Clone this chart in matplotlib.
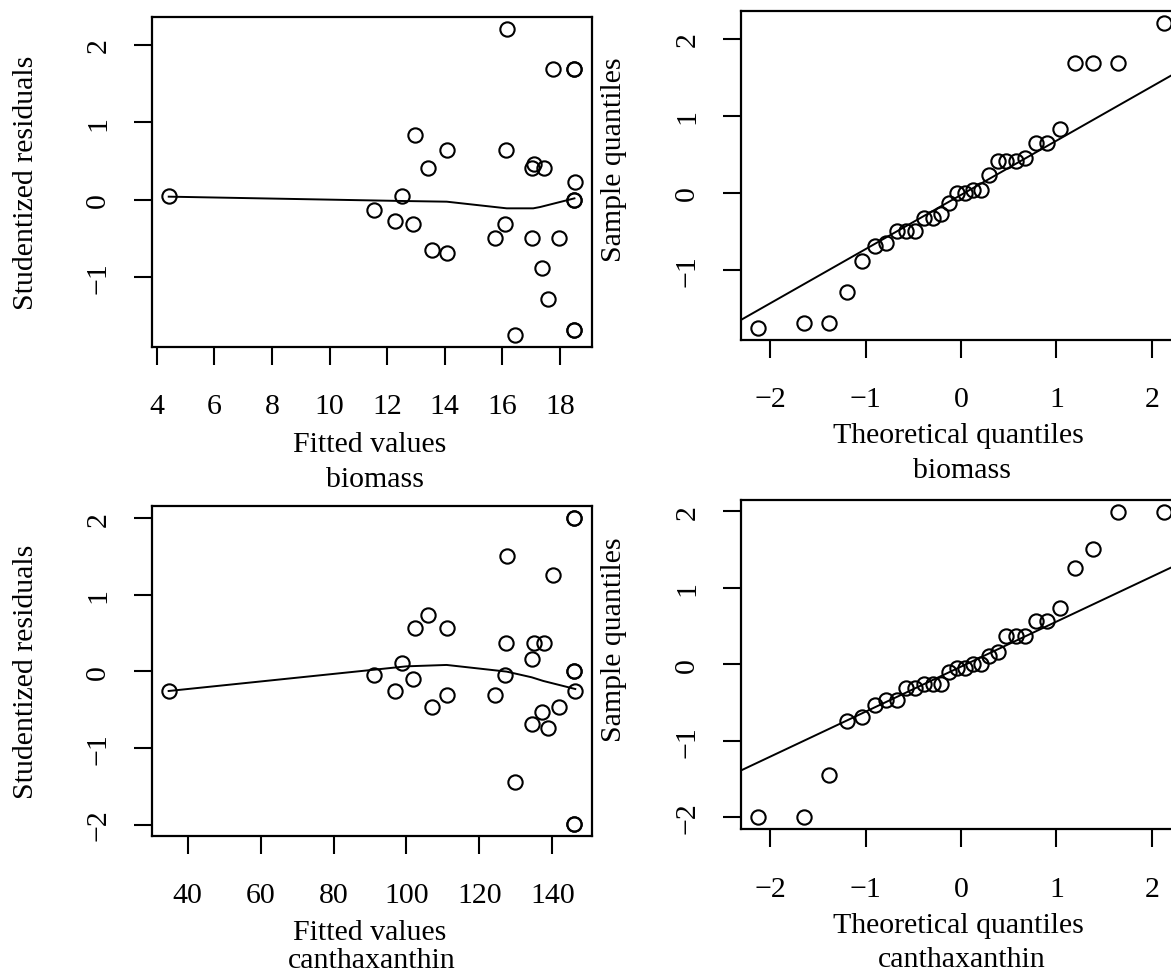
import numpy as np
import matplotlib
matplotlib.use("Agg")
import matplotlib.pyplot as plt

# ---- data ----
# biomass model: fitted values vs studentized residuals
biomass_fitted = [4.42, 16.17, 17.75, 18.50, 18.50, 12.98, 14.07, 13.42, 16.12, 17.09,
                  17.03, 17.44, 18.52, 12.53, 18.50, 18.50, 11.53, 12.28, 12.89, 16.10,
                  15.73, 17.04, 17.98, 13.56, 14.07, 17.39, 17.58, 16.44, 18.50, 18.50]
biomass_resid = [0.043, 2.208, 1.688, 1.688, 1.688, 0.835, 0.645, 0.411, 0.645, 0.459,
                 0.411, 0.411, 0.229, 0.043, 0.0, 0.0, -0.130, -0.273, -0.320, -0.320,
                 -0.498, -0.498, -0.498, -0.645, -0.693, -0.883, -1.290, -1.749, -1.684, -1.684]
biomass_smooth_x = [4.42, 12.53, 14.07, 16.15, 17.07, 17.31, 18.50]
biomass_smooth_y = [0.039, -0.017, -0.026, -0.112, -0.112, -0.095, 0.017]
biomass_qq_line = (-0.025, 0.704)   # intercept, slope

# canthaxanthin model
canth_fitted = [34.79, 146.0, 146.0, 127.66, 140.09, 105.90, 102.43, 111.02, 127.29, 134.88,
                137.71, 134.42, 146.0, 146.0, 98.87, 91.0, 127.11, 101.70, 96.95, 146.2,
                111.02, 124.18, 107.0, 141.92, 137.26, 134.51, 138.81, 129.76, 146.0, 146.0]
canth_resid = [-0.257, 1.998, 1.998, 1.505, 1.256, 0.737, 0.571, 0.571, 0.371, 0.371,
               0.371, 0.157, 0.0, 0.0, 0.105, -0.052, -0.052, -0.105, -0.257, -0.257,
               -0.314, -0.314, -0.467, -0.467, -0.528, -0.685, -0.742, -1.444, -1.993, -1.993]
canth_smooth_x = [34.79, 100.05, 111.02, 127.48, 134.33, 137.53, 146.3]
canth_smooth_y = [-0.257, 0.065, 0.083, -0.004, -0.078, -0.126, -0.231]
canth_qq_line = (-0.031, 0.589)

# normal theoretical quantiles for n = 30
theo_q = [-2.128, -1.645, -1.383, -1.192, -1.036, -0.903, -0.783, -0.674, -0.573, -0.477,
          -0.385, -0.297, -0.210, -0.126, -0.042, 0.042, 0.126, 0.210, 0.297, 0.385,
          0.477, 0.573, 0.674, 0.783, 0.903, 1.036, 1.192, 1.383, 1.645, 2.128]

W, H = 1171, 978
FS = 21.5
plt.rcParams['font.family'] = ['Liberation Serif', 'DejaVu Serif']
plt.rcParams['font.size'] = FS

fig = plt.figure(figsize=(W / 100, H / 100), dpi=100)


def px_axes(l, t, r, b):
    return fig.add_axes([l / W, 1 - b / H, (r - l) / W, (b - t) / H])


def style(ax, xticks, yticks):
    ax.set_xticks(xticks)
    ax.set_yticks(yticks)
    for s in ax.spines.values():
        s.set_linewidth(1.6)
    ax.tick_params(axis='both', direction='out', length=13, width=1.5, labelsize=FS)
    ax.tick_params(axis='x', pad=20.5)
    ax.tick_params(axis='y', pad=16.5)
    for lab in ax.get_yticklabels():
        lab.set_rotation(90)
        lab.set_va('center')


def ftext(x, y, s, **kw):
    fig.text(x / W, 1 - y / H, s, fontsize=FS, **kw)


circ = dict(marker='o', ms=10.3, mfc='none', mec='black', mew=1.5, ls='none')

# top left: residuals vs fitted, biomass
ax1 = px_axes(152.3, 18.3, 592.3, 347.7)
ax1.plot(biomass_fitted, biomass_resid, **circ)
ax1.plot(biomass_smooth_x, biomass_smooth_y, color='black', lw=1.4)
ax1.set_xlim(3.85, 19.12)
ax1.set_ylim(-1.901, 2.358)
style(ax1, np.arange(4, 19, 2), [-1, 0, 1, 2])

# top right: normal QQ, biomass
ax2 = px_axes(741.3, 12, 1180.6, 340.7)
ax2.plot(theo_q, np.sort(biomass_resid), **circ)
ax2.axline((0, biomass_qq_line[0]), slope=biomass_qq_line[1], color='black', lw=1.4)
ax2.set_xlim(-2.302, 2.302)
ax2.set_ylim(-1.905, 2.364)
style(ax2, [-2, -1, 0, 1, 2], [-1, 0, 1, 2])

# bottom left: residuals vs fitted, canthaxanthin
ax3 = px_axes(152.3, 507.3, 592.3, 836.7)
ax3.plot(canth_fitted, canth_resid, **circ)
ax3.plot(canth_smooth_x, canth_smooth_y, color='black', lw=1.4)
ax3.set_xlim(30.31, 150.97)
ax3.set_ylim(-2.146, 2.154)
style(ax3, np.arange(40, 141, 20), [-2, -1, 0, 1, 2])

# bottom right: normal QQ, canthaxanthin
ax4 = px_axes(741.3, 501, 1180.6, 830)
ax4.plot(theo_q, np.sort(canth_resid), **circ)
ax4.axline((0, canth_qq_line[0]), slope=canth_qq_line[1], color='black', lw=1.4)
ax4.set_xlim(-2.302, 2.302)
ax4.set_ylim(-2.155, 2.150)
style(ax4, [-2, -1, 0, 1, 2], [-2, -1, 0, 1, 2])

# axis labels
ftext(370, 451.7, "Fitted values", ha='center', va='baseline')
ftext(375, 486.7, "biomass", ha='center', va='baseline')
ftext(958, 443.3, "Theoretical quantiles", ha='center', va='baseline')
ftext(962, 478.3, "biomass", ha='center', va='baseline')
ftext(370, 940, "Fitted values", ha='center', va='baseline')
ftext(372, 968.3, "canthaxanthin", ha='center', va='baseline')
ftext(958, 933.3, "Theoretical quantiles", ha='center', va='baseline')
ftext(962, 966.7, "canthaxanthin", ha='center', va='baseline')

ftext(26.5, 183, "Studentized residuals", rotation=90, ha='center', va='center')
ftext(26.5, 672, "Studentized residuals", rotation=90, ha='center', va='center')
ftext(614, 160, "Sample quantiles", rotation=90, ha='center', va='center')
ftext(614, 640, "Sample quantiles", rotation=90, ha='center', va='center')

fig.savefig("out.png", dpi=100)
